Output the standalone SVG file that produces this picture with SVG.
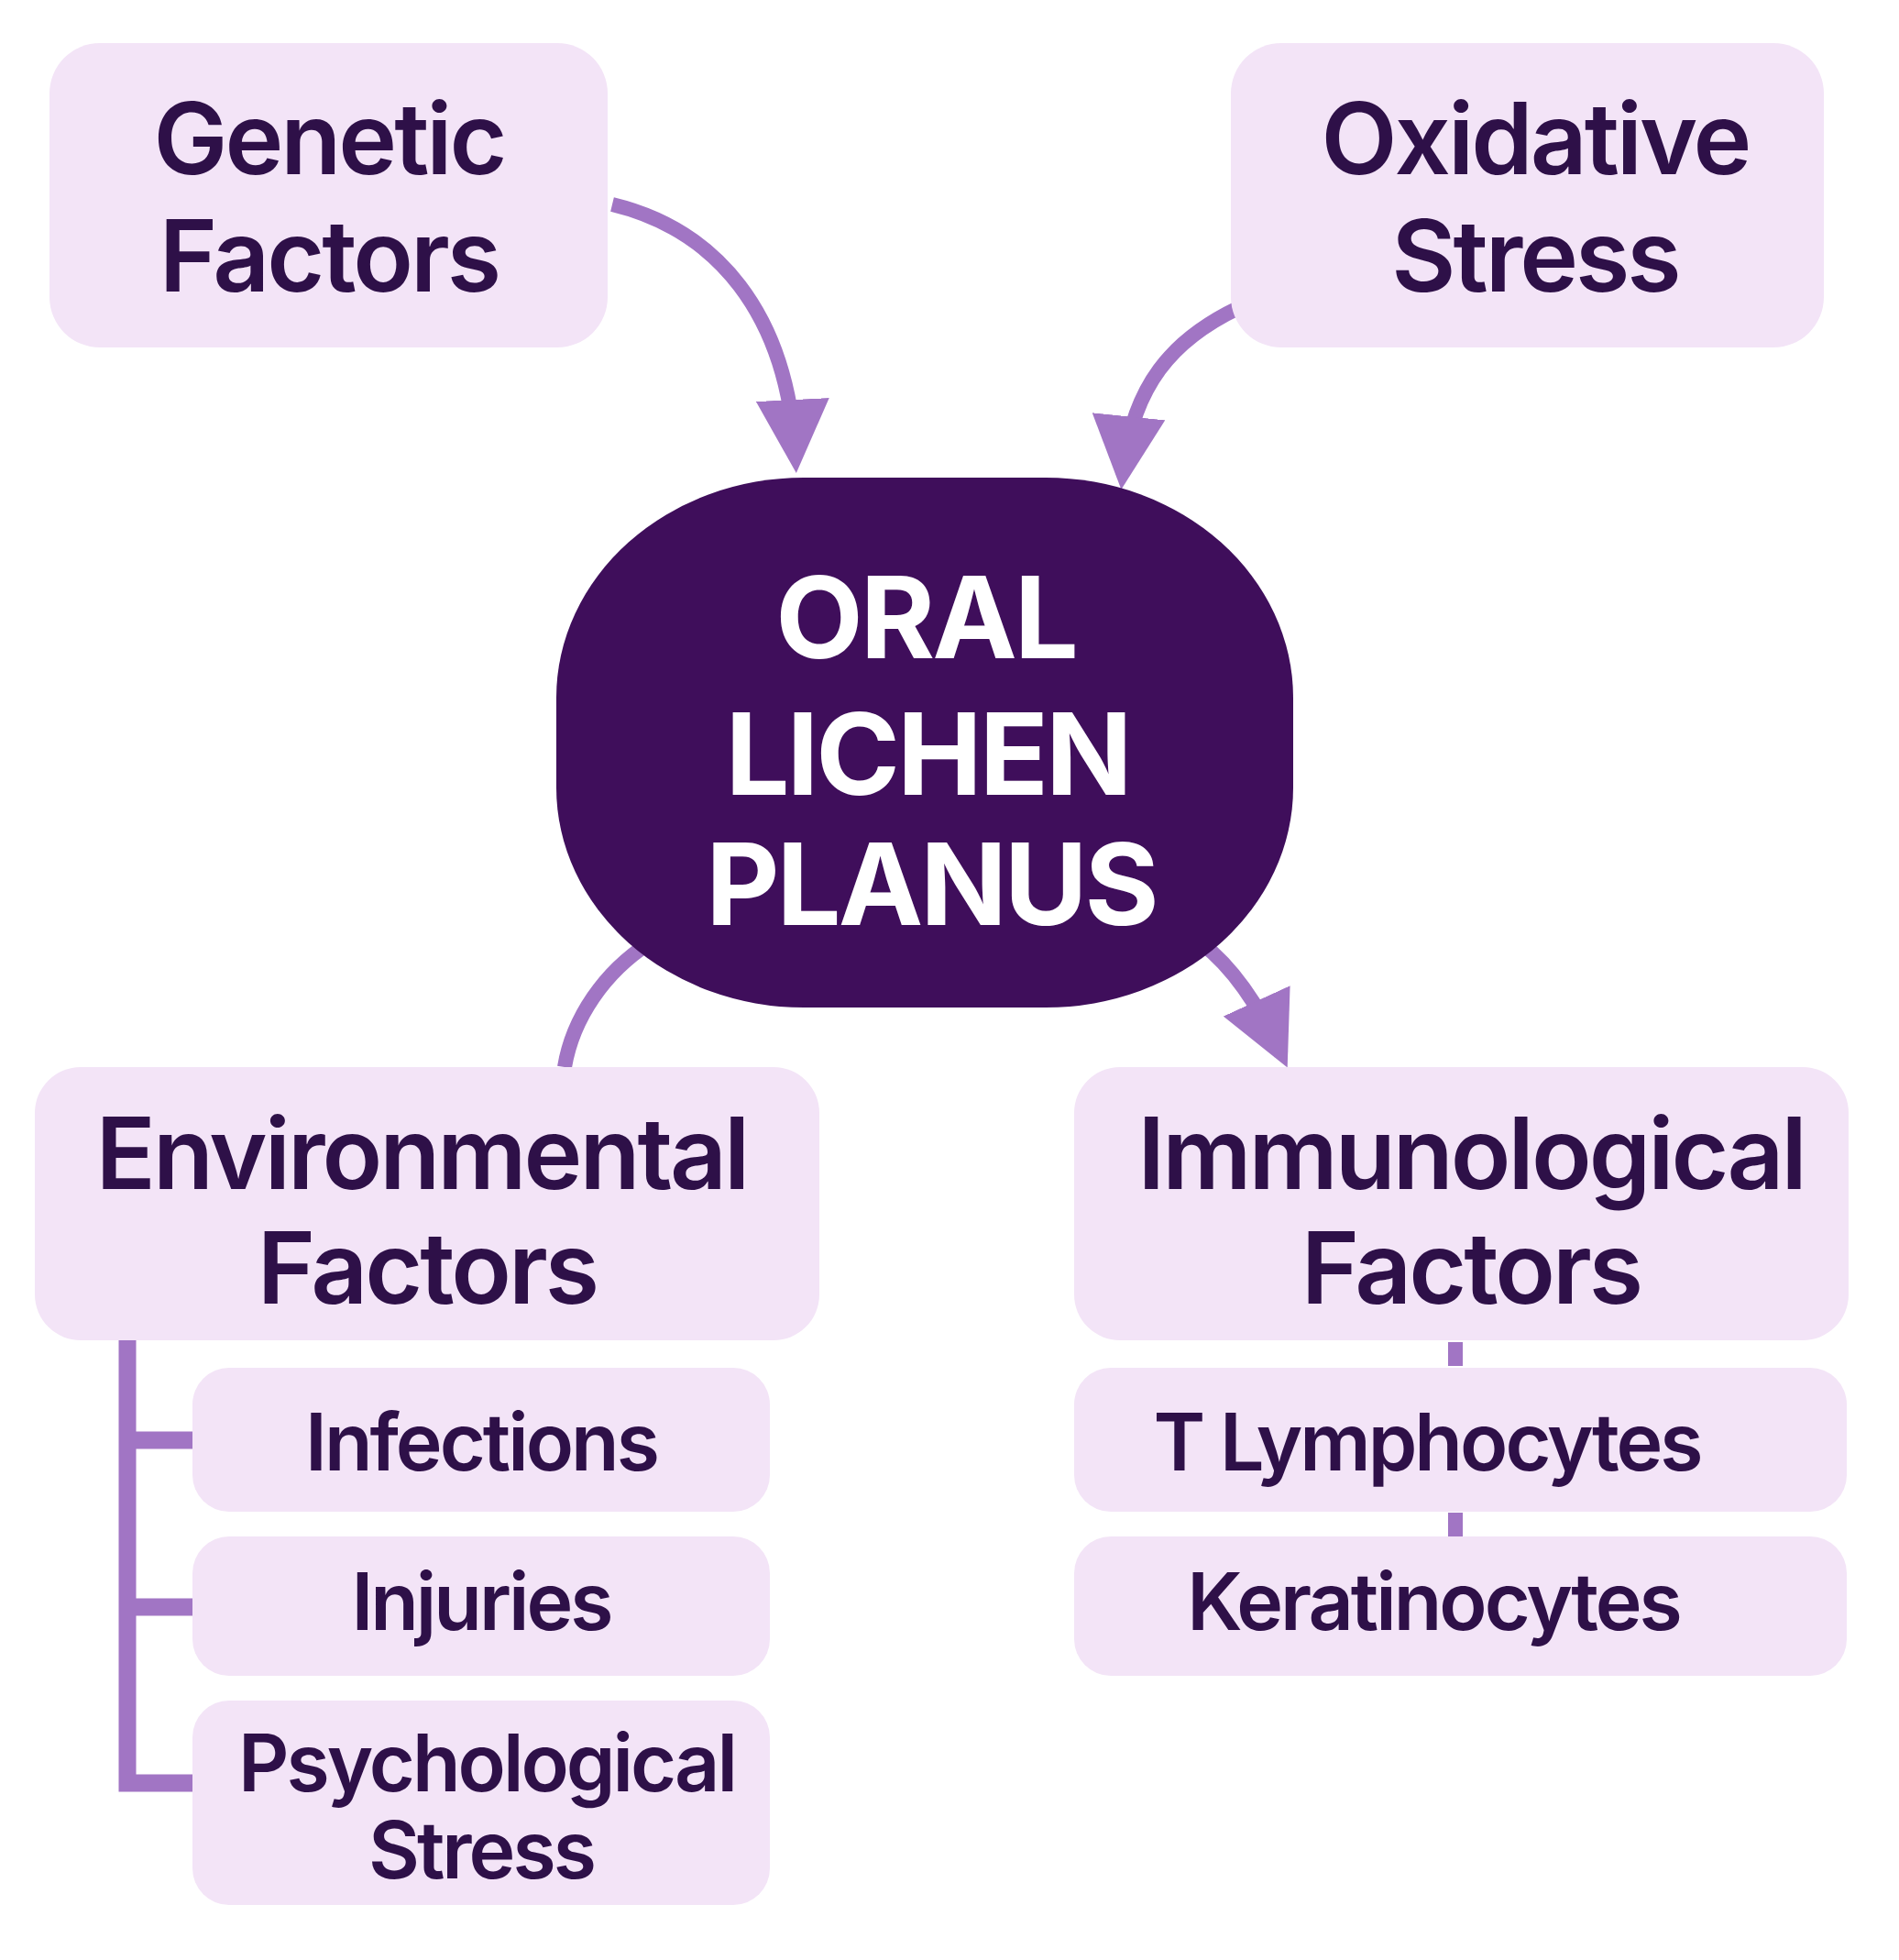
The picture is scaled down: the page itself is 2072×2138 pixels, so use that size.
<svg xmlns="http://www.w3.org/2000/svg" width="2072" height="2138" viewBox="0 0 2072 2138">
<style>
.box{fill:#f3e4f7}
.t{font-family:Inter,"Noto Sans",sans-serif;font-weight:600;fill:#2e1048;text-anchor:middle;letter-spacing:-3px}
.h{font-size:108px}
.s{font-size:86px}
.c{font-family:Inter,"Noto Sans",sans-serif;font-weight:700;fill:#fff;text-anchor:middle;font-size:124px;letter-spacing:-3px}
.ln{fill:none;stroke:#a175c4;stroke-width:16}
</style>
<defs>
<marker id="ah" viewBox="0 0 10 10" refX="8" refY="5" markerWidth="5" markerHeight="5" orient="auto" markerUnits="strokeWidth">
<path d="M0,0 L10,5 L0,10 Z" fill="#a175c4"/>
</marker>
</defs>
<rect width="2072" height="2138" fill="#fff"/>
<g id="connectors">
<path class="ln" d="M668,223 C780,250 860,340 868,500" marker-end="url(#ah)"/>
<path class="ln" d="M1351,336 C1280,370 1235,420 1225,518" marker-end="url(#ah)"/>
<path class="ln" d="M708,1029 C660,1060 625,1110 616,1164"/>
<path class="ln" d="M1311,1029 C1345,1055 1375,1100 1398,1150" marker-end="url(#ah)"/>
<path fill="none" stroke="#a175c4" stroke-width="19" d="M139,1462 V1945 H212 M139,1571 H212 M139,1753 H212"/>
<path class="ln" d="M1588,1464 V1490 M1588,1650 V1676"/>
</g>
<g id="genetic"><rect class="box" x="54" y="47" width="609" height="332" rx="55"/>
<text class="t h" x="359" y="190">Genetic</text><text class="t h" x="359" y="318">Factors</text></g>
<g id="oxidative"><rect class="box" x="1343" y="47" width="647" height="332" rx="55"/>
<text class="t h" x="1675" y="190">Oxidative</text><text class="t h" x="1675" y="318">Stress</text></g>
<g id="olp"><rect x="607" y="521" width="804" height="578" rx="270" ry="240" fill="#3f0e5b"/>
<text class="c" x="1010" y="718">ORAL</text><text class="c" x="1012" y="867">LICHEN</text><text class="c" x="1016" y="1009">PLANUS</text></g>
<g id="environmental"><rect class="box" x="38" y="1164" width="856" height="298" rx="50"/>
<text class="t h" x="460" y="1297">Environmental</text><text class="t h" x="466" y="1422">Factors</text></g>
<g id="immunological"><rect class="box" x="1172" y="1164" width="845" height="298" rx="50"/>
<text class="t h" x="1605" y="1297">Immunological</text><text class="t h" x="1605" y="1422">Factors</text></g>
<g id="infections"><rect class="box" x="210" y="1492" width="630" height="157" rx="40"/>
<text class="t s" x="525" y="1604">Infections</text></g>
<g id="injuries"><rect class="box" x="210" y="1676" width="630" height="152" rx="40"/>
<text class="t s" x="525" y="1778">Injuries</text></g>
<g id="psychological"><rect class="box" x="210" y="1855" width="630" height="223" rx="40"/>
<text class="t s" x="531" y="1954">Psychological</text><text class="t s" x="525" y="2049">Stress</text></g>
<g id="tlymph"><rect class="box" x="1172" y="1492" width="843" height="157" rx="40"/>
<text class="t s" x="1557" y="1604">T Lymphocytes</text></g>
<g id="kerat"><rect class="box" x="1172" y="1676" width="843" height="152" rx="40"/>
<text class="t s" x="1564" y="1778">Keratinocytes</text></g>
</svg>
